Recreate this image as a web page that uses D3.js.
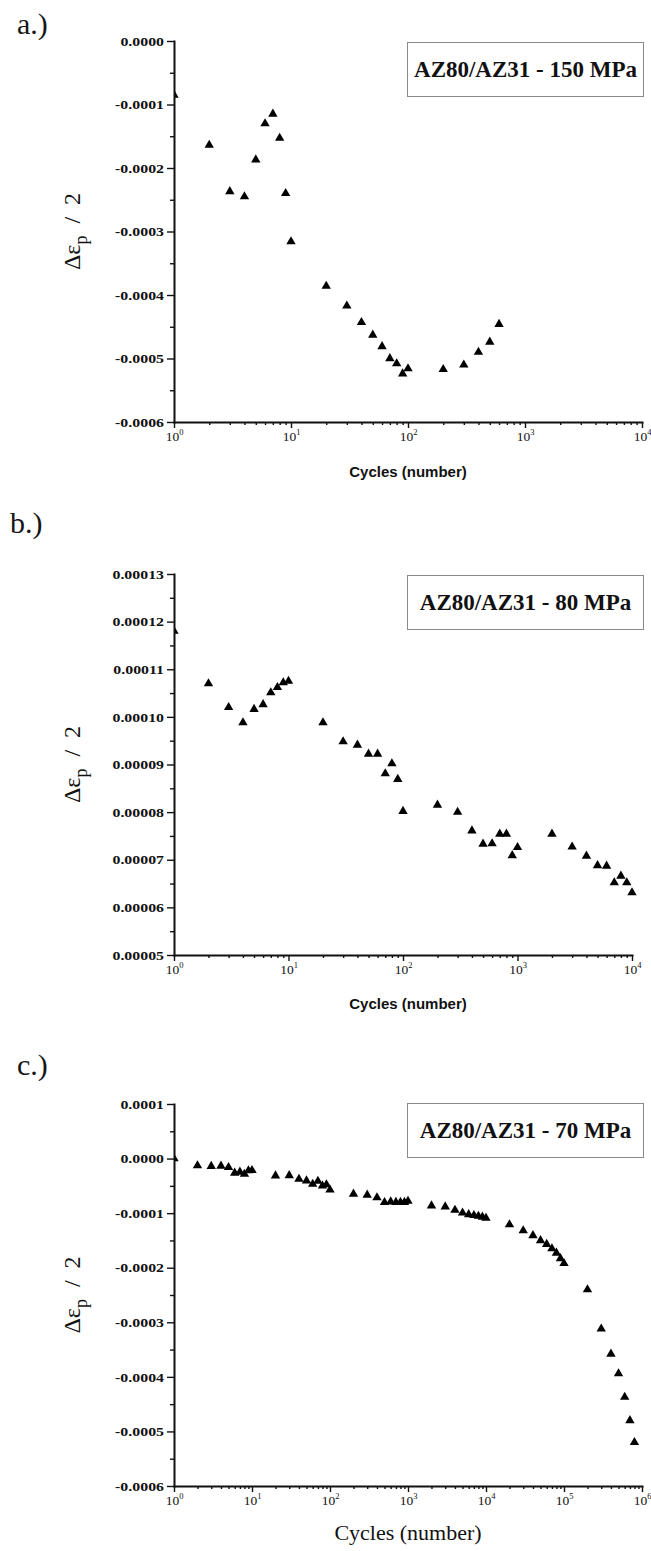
<!DOCTYPE html>
<html>
<head>
<meta charset="utf-8">
<script src="https://cdn.jsdelivr.net/npm/d3@7"></script>
<style>
  body { margin: 0; background: #fff; }
  svg { display: block; }
</style>
</head>
<body>
<svg id="fig" width="651" height="1551"></svg>
<script>
// ---- data: half plastic strain amplitude vs. number of cycles ----
const cyclesA = [1, 2, 3, 4, 5, 6, 7, 8, 9, 10, 20, 30, 40, 50, 60, 70, 80, 90, 100, 200, 300, 400, 500, 600];
const strainA = [-0.000085, -0.000164, -0.000237, -0.000245, -0.000187, -0.00013, -0.000115, -0.000153, -0.00024, -0.000316,
  -0.000386, -0.000417, -0.000443, -0.000463, -0.000481, -0.0005, -0.000508, -0.000524, -0.000516,
  -0.000517, -0.00051, -0.00049, -0.000474, -0.000446];

const cyclesB = [1, 2, 3, 4, 5, 6, 7, 8, 9, 10, 20, 30, 40, 50, 60, 70, 80, 90, 100,
  200, 300, 400, 500, 600, 700, 800, 900, 1000, 2000, 3000, 4000, 5000, 6000, 7000, 8000, 9000, 10000];
const strainB = [0.000118, 0.000107, 0.000102, 0.0000988, 0.0001016, 0.0001026, 0.0001051, 0.0001062, 0.0001072, 0.0001075,
  0.0000988, 0.0000948, 0.0000941, 0.0000922, 0.0000922, 0.0000881, 0.0000902, 0.0000869, 0.0000802,
  0.0000815, 0.00008, 0.0000761, 0.0000733, 0.0000734, 0.0000754, 0.0000754, 0.0000709, 0.0000726,
  0.0000754, 0.0000727, 0.0000708, 0.0000688, 0.0000687, 0.0000652, 0.0000666, 0.0000652, 0.0000631];

const cyclesC = [1, 2, 3, 4, 5, 6, 7, 8, 9, 10, 20, 30, 40, 50, 60, 70, 80, 90, 100,
  200, 300, 400, 500, 600, 700, 800, 900, 1000, 2000, 3000, 4000, 5000, 6000, 7000, 8000, 9000, 10000,
  20000, 30000, 40000, 50000, 60000, 70000, 80000, 90000, 100000,
  200000, 300000, 400000, 500000, 600000, 700000, 800000];
const strainC = [0, -0.000013, -0.000014, -0.0000135, -0.000016, -0.0000265, -0.0000245, -0.0000285, -0.000022, -0.0000215,
  -0.0000315, -0.000031, -0.0000376, -0.0000407, -0.0000469, -0.0000413, -0.00005, -0.0000476, -0.0000574,
  -0.0000648, -0.0000667, -0.0000716, -0.0000802, -0.000079, -0.00008, -0.00008, -0.00008, -0.000078,
  -0.0000865, -0.0000883, -0.0000945, -0.0000994, -0.0001024, -0.000104, -0.0001055, -0.000107, -0.000109,
  -0.000121, -0.000132, -0.000141, -0.00015, -0.000157, -0.000165, -0.000173, -0.000183, -0.000192,
  -0.00024, -0.000312, -0.000358, -0.000394, -0.000437, -0.00048, -0.00052];

// ---- axis ticks and labels ----
const yTicksA = [0, -0.0001, -0.0002, -0.0003, -0.0004, -0.0005, -0.0006];
const yTicksB = [0.00013, 0.00012, 0.00011, 0.00010, 0.00009, 0.00008, 0.00007, 0.00006, 0.00005];
const yTicksC = [0.0001, 0, -0.0001, -0.0002, -0.0003, -0.0004, -0.0005, -0.0006];
const decadesA = [1, 10, 100, 1000, 10000];
const decadesB = [1, 10, 100, 1000, 10000];
const decadesC = [1, 10, 100, 1000, 10000, 100000, 1000000];
const legendTexts = ["AZ80/AZ31 - 150 MPa", "AZ80/AZ31 - 80 MPa", "AZ80/AZ31 - 70 MPa"];
const panelTags = ["a.)", "b.)", "c.)"];
const xTitle = "Cycles (number)";

const SERIF = "'Liberation Serif', 'Times New Roman', serif";
const SANS = "'Liberation Sans', Arial, sans-serif";
const fmt = d3.formatLocale({ decimal: ".", thousands: ",", grouping: [3], currency: ["", ""], minus: "-" });
const svg = d3.select("#fig");
const defs = svg.append("defs");

const panels = [
  { key: "a", cycles: cyclesA, values: strainA, yTicks: yTicksA, decades: decadesA, yFmt: ".4f",
    left: 174, right: 642, top: 41, bottom: 422, tagY: 34, tagX: 17, legendTop: 42,
    xTitleY: 477, xTitleSans: true, legend: legendTexts[0], tag: panelTags[0] },
  { key: "b", cycles: cyclesB, values: strainB, yTicks: yTicksB, decades: decadesB, yFmt: ".5f",
    left: 174, right: 632, top: 574, bottom: 955, tagY: 533, tagX: 10, legendTop: 575,
    xTitleY: 1009, xTitleSans: true, legend: legendTexts[1], tag: panelTags[1] },
  { key: "c", cycles: cyclesC, values: strainC, yTicks: yTicksC, decades: decadesC, yFmt: ".4f",
    left: 174, right: 642, top: 1104, bottom: 1486, tagY: 1075, tagX: 17, legendTop: 1103,
    xTitleY: 1540, xTitleSans: false, legend: legendTexts[2], tag: panelTags[2] }
];

function drawPanel(p) {
  const g = svg.append("g").attr("class", "panel-" + p.key);
  const x = d3.scaleLog().domain([p.decades[0], p.decades[p.decades.length - 1]]).range([p.left, p.right]);
  const y = d3.scaleLinear().domain([p.yTicks[p.yTicks.length - 1], p.yTicks[0]]).range([p.bottom, p.top]);

  // panel tag
  g.append("text").attr("x", p.tagX).attr("y", p.tagY)
    .attr("font-family", SERIF).attr("font-size", 30).attr("fill", "#161616").text(p.tag);

  // legend box
  const lg = g.append("g");
  lg.append("rect").attr("x", 407.5).attr("y", p.legendTop + 0.5).attr("width", 236).attr("height", 54)
    .attr("fill", "#fff").attr("stroke", "#8a8a8a").attr("stroke-width", 1);
  lg.append("text").attr("x", 525.5).attr("y", p.legendTop + 35)
    .attr("text-anchor", "middle").attr("font-family", SERIF).attr("font-weight", "bold")
    .attr("font-size", 23).attr("fill", "#111").text(p.legend);

  // markers, clipped to the plotting area
  const clipId = "clip-" + p.key;
  defs.append("clipPath").attr("id", clipId).append("rect")
    .attr("x", p.left).attr("y", p.top - 10).attr("width", p.right - p.left + 10).attr("height", p.bottom - p.top + 10);
  g.append("g").attr("clip-path", `url(#${clipId})`)
    .selectAll("path").data(d3.zip(p.cycles, p.values)).join("path")
    .attr("d", d3.symbol(d3.symbolTriangle, 38))
    .attr("transform", d => `translate(${x(d[0])},${y(d[1])})`)
    .attr("fill", "#000");

  // x axis: minor ticks at 2..9 of each decade, major ticks at decades
  const minorX = [];
  for (let i = 0; i < p.decades.length - 1; i++) {
    for (let k = 2; k <= 9; k++) minorX.push(p.decades[i] * k);
  }
  const xMinor = g.append("g").attr("transform", `translate(0,${p.bottom})`)
    .call(d3.axisBottom(x).tickValues(minorX).tickSize(3).tickSizeOuter(0).tickFormat(""));
  xMinor.select(".domain").remove();
  const xMajor = g.append("g").attr("transform", `translate(0,${p.bottom})`)
    .call(d3.axisBottom(x).tickValues(p.decades).tickSize(6).tickSizeOuter(0).tickFormat(""));
  xMajor.selectAll(".tick text").remove();
  xMajor.selectAll(".tick").append("text")
    .attr("y", 19).attr("text-anchor", "middle")
    .attr("font-family", SERIF).attr("font-size", 13.5).attr("fill", "#111")
    .each(function (d) {
      const t = d3.select(this);
      t.append("tspan").text("10");
      t.append("tspan").attr("dy", -6).attr("font-size", 8.5).text(Math.round(Math.log10(d)));
    });

  // y axis: labelled major ticks and half-step minor ticks
  const minorY = d3.pairs(p.yTicks).map(([a, b]) => (a + b) / 2);
  const yMinor = g.append("g").attr("transform", `translate(${p.left},0)`)
    .call(d3.axisLeft(y).tickValues(minorY).tickSize(4).tickSizeOuter(0).tickFormat(""));
  yMinor.select(".domain").remove();
  const yMajor = g.append("g").attr("transform", `translate(${p.left},0)`)
    .call(d3.axisLeft(y).tickValues(p.yTicks).tickSize(7).tickSizeOuter(0).tickPadding(3)
      .tickFormat(fmt.format(p.yFmt)));
  yMajor.selectAll(".tick text")
    .attr("font-family", SERIF).attr("font-weight", "bold").attr("font-size", 13).attr("fill", "#111")
    .attr("x", -10 / 1.22).attr("transform", "scale(1.22,1)");

  [xMinor, xMajor, yMinor, yMajor].forEach(ax => {
    ax.selectAll(".tick line").attr("stroke", "#111").attr("stroke-width", 1.4);
    ax.selectAll(".domain").attr("stroke", "#111").attr("stroke-width", 2).attr("stroke-linecap", "square");
  });

  // axis titles
  g.append("text").attr("x", 408).attr("y", p.xTitleY).attr("text-anchor", "middle")
    .attr("font-family", p.xTitleSans ? SANS : SERIF)
    .attr("font-weight", p.xTitleSans ? "bold" : "normal")
    .attr("font-size", p.xTitleSans ? 15 : 22).attr("fill", "#111").text(xTitle);

  const cy = (p.top + p.bottom) / 2;
  const yt = g.append("text").attr("transform", `translate(80,${cy}) rotate(-90)`)
    .attr("text-anchor", "middle").attr("font-family", SERIF).attr("font-size", 24).attr("fill", "#111");
  yt.append("tspan").text("\u0394\u03B5");
  yt.append("tspan").attr("dy", 7).attr("font-size", 18).text("p");
  yt.append("tspan").attr("dy", -7).text("\u2002/\u20022");
}

panels.forEach(drawPanel);
</script>
</body>
</html>
